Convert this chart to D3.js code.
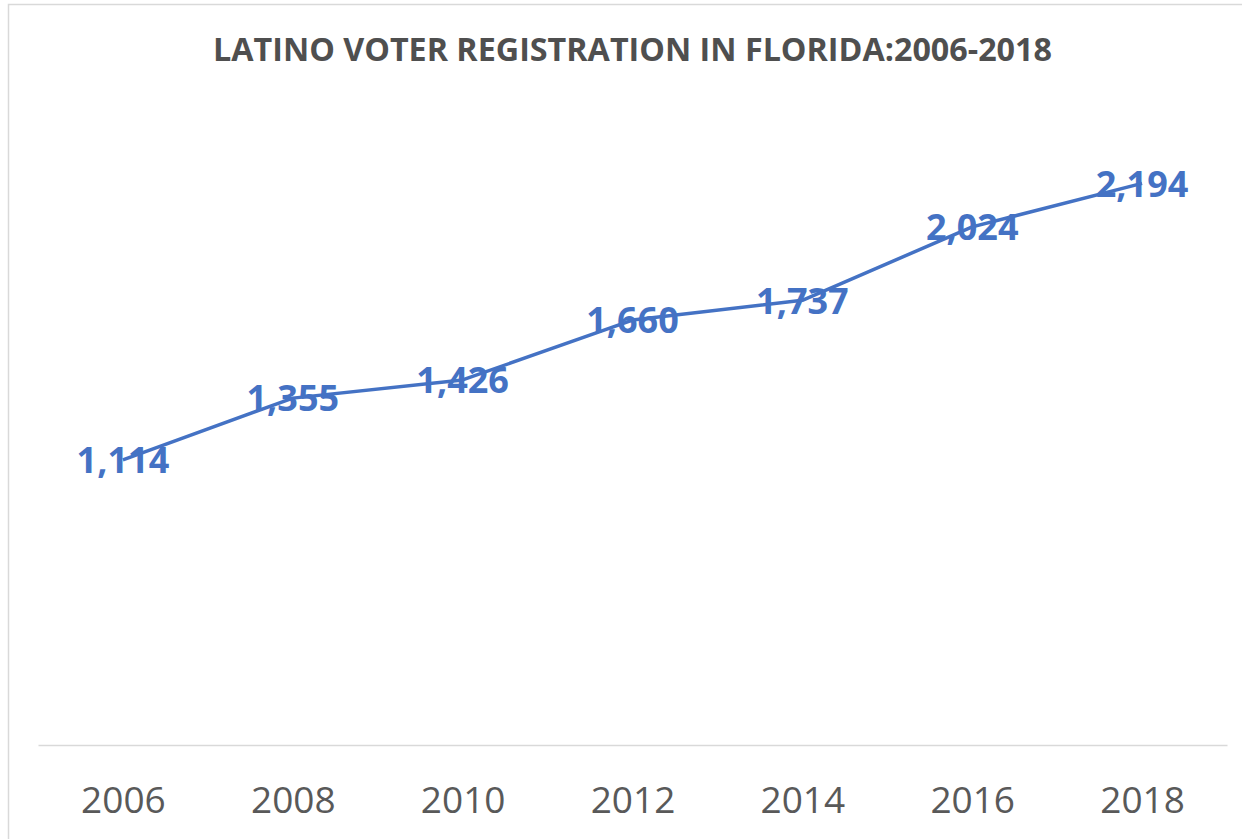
<!DOCTYPE html>
<html>
<head>
<meta charset="utf-8">
<script src="https://cdn.jsdelivr.net/npm/d3@7"></script>
<style>
  body { margin: 0; background: #fff; overflow: hidden; }
  #svg-container { width: 1242px; height: 839px; }
  text { font-family: "Open Sans", "Liberation Sans", sans-serif; }
</style>
</head>
<body>
<div id="svg-container"></div>
<script>
// data
const years = ["2006", "2008", "2010", "2012", "2014", "2016", "2018"];
const registered = [1114, 1355, 1426, 1660, 1737, 2024, 2194]; // thousands
const titleText = "LATINO VOTER REGISTRATION IN FLORIDA:2006-2018";

const width = 1242;
const height = 839;
const margin = { top: 105, right: 15, bottom: 94, left: 38 };

const blue = "#4472c4";
const gray = "#595959";

const svg = d3.select("#svg-container").append("svg")
  .attr("width", width)
  .attr("height", height);

// chart frame
svg.append("rect")
  .attr("x", 8.5)
  .attr("y", 4.5)
  .attr("width", width + 20)
  .attr("height", height + 20)
  .attr("fill", "#fff")
  .attr("stroke", "#d9d9d9")
  .attr("stroke-width", 1.5);

// title
svg.append("text")
  .attr("x", 632.5)
  .attr("y", 61)
  .attr("text-anchor", "middle")
  .attr("font-size", 33)
  .attr("font-weight", 700)
  .attr("fill", "#4f4f4f")
  .attr("textLength", 839)
  .attr("lengthAdjust", "spacingAndGlyphs")
  .text(titleText);

// scales
const xScale = d3.scalePoint()
  .domain(years)
  .range([margin.left, width - margin.right])
  .padding(0.5);

const yScale = d3.scaleLinear()
  .domain([0, 2500])
  .range([height - margin.bottom, margin.top]);

// x axis
const xAxis = d3.axisBottom(xScale).tickSize(0).tickPadding(0);

const gx = svg.append("g")
  .attr("class", "x-axis")
  .attr("transform", `translate(0,${yScale(0)})`)
  .call(xAxis);

gx.select(".domain")
  .attr("stroke", "#d9d9d9")
  .attr("stroke-width", 1.5);

gx.selectAll(".tick text")
  .attr("y", 68)
  .attr("dy", 0)
  .attr("font-size", 37)
  .attr("fill", gray)
  .style("font-family", "'Open Sans', sans-serif");

// line
const data = years.map((y, i) => ({ year: y, value: registered[i] }));

const line = d3.line()
  .x((d) => xScale(d.year))
  .y((d) => yScale(d.value));

svg.append("path")
  .datum(data)
  .attr("fill", "none")
  .attr("stroke", blue)
  .attr("stroke-width", 3.5)
  .attr("stroke-linejoin", "round")
  .attr("d", line);

// data labels, centered on points
const formatValue = d3.format(",");

svg.append("g")
  .selectAll("text")
  .data(data)
  .join("text")
  .attr("x", (d) => xScale(d.year))
  .attr("y", (d) => yScale(d.value))
  .attr("dy", "0.37em")
  .attr("text-anchor", "middle")
  .attr("font-size", 36)
  .attr("font-weight", 700)
  .attr("fill", blue)
  .text((d) => formatValue(d.value));
</script>
</body>
</html>
